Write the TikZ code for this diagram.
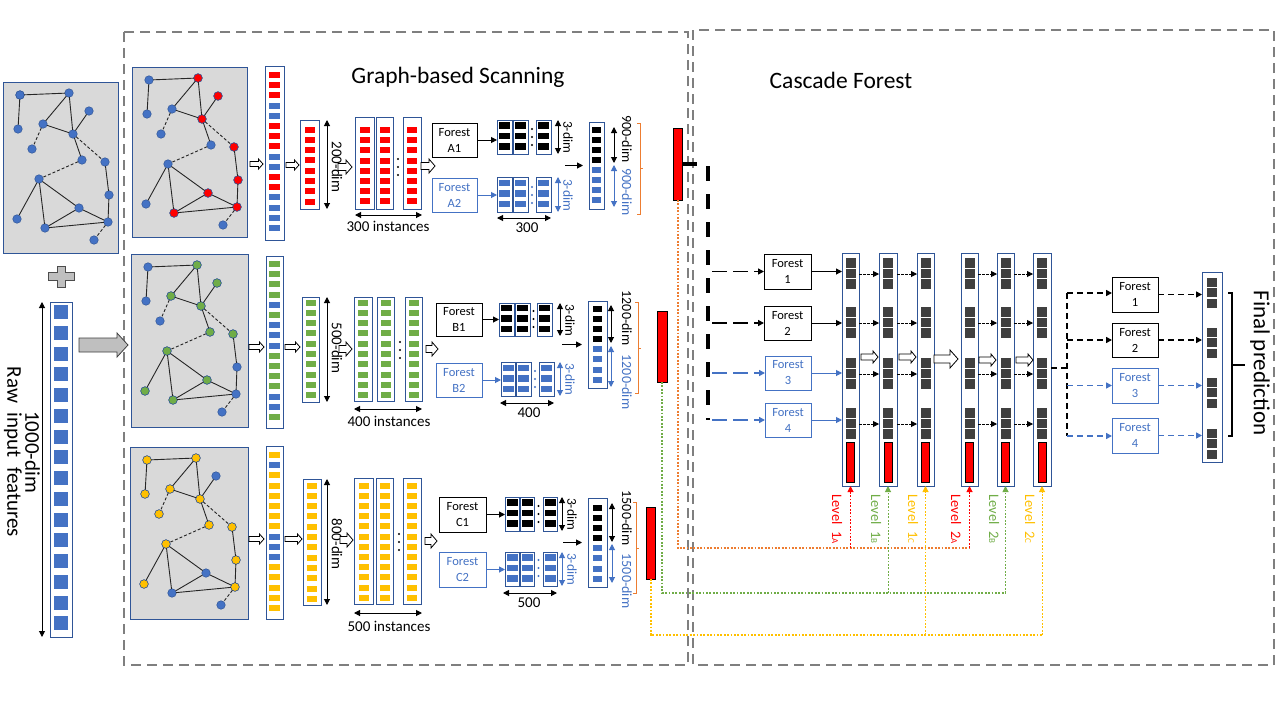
\documentclass[tikz,border=0pt]{standalone}
\usepackage{fontspec}
\setmainfont{Carlito}
\usetikzlibrary{arrows.meta}
\definecolor{cblue}{HTML}{4472C4}
\definecolor{cred}{HTML}{FF0000}
\definecolor{cgreen}{HTML}{70AD47}
\definecolor{cyel}{HTML}{FFC000}
\definecolor{cdark}{HTML}{2F5597}
\definecolor{corange}{HTML}{ED7D31}
\definecolor{csq}{HTML}{404040}
\definecolor{cpanel}{HTML}{D9D9D9}
\definecolor{cframe}{HTML}{7F7F7F}
\definecolor{cplus}{HTML}{BFBFBF}
\newcommand\fsz[2]{\fontsize{#1}{#2}\selectfont}
\tikzset{
  gpanel/.style={draw=cdark, fill=cpanel, line width=0.8pt},
  gnode/.style={circle, draw=cdark, line width=0.5pt, minimum size=8.5pt, inner sep=0pt, outer sep=0pt},
  gedge/.style={draw=black!85, line width=0.9pt},
  gdash/.style={gedge, dash pattern=on 3pt off 2pt},
  vecbox/.style={draw=cdark, line width=0.9pt, fill=white, inner sep=0pt, outer sep=0pt},
  forestk/.style={draw=black, line width=0.9pt, fill=white, align=center, font=\fsz{12.5}{16}, inner sep=0pt, outer sep=0pt},
  forestb/.style={forestk, draw=cblue, text=cblue},
  arrk/.style={-{Triangle[length=6pt,width=6pt]}, line width=1pt},
  dimk/.style={{Triangle[length=6pt,width=6pt]}-{Triangle[length=6pt,width=6pt]}, line width=1pt},
  dimtxt/.style={rotate=-90, font=\fsz{14}{14}, inner sep=0pt},
  hollowst/.style={draw=black, fill=white, line width=0.8pt},
  gframe/.style={draw=cframe, line width=2.5pt, dash pattern=on 10pt off 6pt},
  dotln/.style={line width=2pt, dash pattern=on 1.8pt off 1.6pt},
  cdsh/.style={line width=1.6pt, dash pattern=on 6pt off 4pt},
  smdash/.style={line width=0.9pt, dash pattern=on 2.5pt off 1.5pt},
  lvl/.style={rotate=-90, font=\fsz{14.5}{14.5}, inner sep=0pt},
  redbar/.style={draw=black, fill=cred, line width=0.9pt, inner sep=0pt, outer sep=0pt},
}
\newcommand\vecn[5]{\node[vecbox, minimum width={#4-#2}, minimum height={#5-#3}] (#1) at ({(#2+#4)/2},{(#3+#5)/2}) {};}
\newcommand\sqp[7]{\foreach \i in {1,...,#4}{\fill[#7] ({#1-#5/2},{#2+(\i-1)*#3-#6/2}) rectangle ({#1+#5/2},{#2+(\i-1)*#3+#6/2});}}
\newcommand\sql[6]{\foreach \cc [count=\i] in {#6}{\fill[\cc] ({#1-#4/2},{#2+(\i-1)*#3-#5/2}) rectangle ({#1+#4/2},{#2+(\i-1)*#3+#5/2});}}
\newcommand\harr[6]{\draw[hollowst] (#1,{#3-#4}) -- ({#2-#6},{#3-#4}) -- ({#2-#6},{#3-#5}) -- (#2,#3) -- ({#2-#6},{#3+#5}) -- ({#2-#6},{#3+#4}) -- (#1,{#3+#4}) -- cycle;}
\newcommand\tdots[3]{\foreach \dd in {-8,0,8}{\fill[#3] (#1,{#2+\dd}) circle (1.2);}}
\newcommand\graphpanel[7]{%
  \draw[gpanel] (#2,#3) rectangle ++(#4,#5);
  \foreach \n/\px/\py in {1/17/13,2/66/11,3/15/47,4/86/29,5/40/42,6/70/52,7/29/67,8/79/78,9/102/80,10/36/97,11/106/113,12/14/137,13/76/126,14/42/146,15/105/140,16/91/158}
    {\node[gnode, fill=cblue] (#1\n) at ({#2+\px},{#3+\py}) {};}
  \foreach \n in {#7} {\node[gnode, fill=#6] at (#1\n) {};}
  \foreach \a/\b in {1/2,1/3,2/5,2/6,5/6,6/4,6/8,9/11,11/15,10/12,10/14,10/13,13/15,14/13,14/15}
    {\draw[gedge] (#1\a) -- (#1\b);}
  \foreach \a/\b in {5/7,6/9,8/10,15/16}
    {\draw[gdash] (#1\a) -- (#1\b);}
}
\begin{document}
\begin{tikzpicture}[x=1pt,y=-1pt]
\useasboundingbox (0,0) rectangle (1280,720);
\fill[white] (0,0) rectangle (1280,720);

% frames
\draw[gframe] (124,32) rectangle (688,665);
\draw[gframe] (693,30) rectangle (1274,665);

% titles
\node[font=\fsz{23.5}{23.5}] (t1) at (458,77) {Graph-based Scanning};
\node[font=\fsz{23.5}{23.5}] (t2) at (841,80) {Cascade Forest};

% raw input
\graphpanel{r}{3}{82}{115}{171}{cblue}{1}
\draw[fill=cplus, draw=black!70, line width=0.8pt] (57,266) -- (65,266) -- (65,272) -- (74,272) -- (74,280) -- (65,280) -- (65,287) -- (57,287) -- (57,280) -- (48,280) -- (48,272) -- (57,272) -- cycle;
\vecn{raw}{50}{302}{72}{637}
\sqp{61}{312}{20.75}{16}{14}{14}{cblue}
\draw[dimk] (42,302) -- (42,637);
\node[rotate=-90, font=\fsz{21}{18}, align=center, inner sep=0pt] (rawt) at (22,452) {1000-dim\\Raw\ \ input\ \ features};
\draw[fill=cplus, draw=black!75, line width=0.8pt] (79,338) -- (117,338) -- (117,333) -- (128,345) -- (117,357) -- (117,352) -- (79,352) -- cycle;

% graph panels
\graphpanel{a}{132}{67}{115}{170}{cred}{2,4,6,9,11,13,14,15}
\graphpanel{b}{131}{254}{117}{173}{cgreen}{2,4,5,6,8,9,10,12,13,14}
\graphpanel{c}{130}{447}{118}{172}{cyel}{1,2,3,5,6,7,8,9,10,11,12,15}

% ================= Row 1 =================
\harr{250}{263}{164}{2.5}{5}{4.5}
\vecn{la}{265}{66}{284}{240}
\sql{274.5}{75}{10.2}{11}{6}{cred,cred,cred,cblue,cblue,cred,cred,cred,cblue,cblue,cred,cred,cblue,cblue,cblue,cblue}
\harr{286}{299}{165}{2.5}{5}{4.5}
\vecn{da}{300}{120}{319}{209}
\sqp{309.5}{129.5}{10.3}{8}{10}{6}{cred}
\draw[dimk] (327,120) -- (327,209);
\node[dimtxt, font=\fsz{15}{15}] at (337,167) {200-dim};
\harr{338}{352}{167}{3.5}{7}{6}
\vecn{ia1}{355}{117}{374}{209}
\vecn{ia2}{376}{117}{393}{209}
\vecn{ia3}{403}{117}{421}{209}
\sqp{364.5}{130}{10.2}{8}{10}{6}{cred}
\sqp{384.5}{130}{10.2}{8}{10}{6}{cred}
\sqp{412}{130}{10.2}{8}{10}{6}{cred}
\tdots{398}{167}{black}
\draw[dimk] (355,215) -- (422,215);
\node[font=\fsz{15}{15}] at (388,226) {300 instances};
\harr{421}{435}{166}{3.5}{7}{6}
\node[forestk, minimum width=45, minimum height=34] (A1) at (454.5,140) {Forest\\A1};
\node[forestb, minimum width=45, minimum height=34] (A2) at (454.5,195) {Forest\\A2};
\vecn{oa1}{497}{120}{512}{154}
\vecn{oa2}{513}{120}{528}{154}
\vecn{oa3}{536}{120}{551}{154}
\sqp{504.5}{125.5}{10.5}{3}{11}{6.5}{black}
\sqp{520.5}{125.5}{10.5}{3}{11}{6.5}{black}
\sqp{543.5}{125.5}{10.5}{3}{11}{6.5}{black}
\tdots{532}{137}{black}
\vecn{ob1}{497}{177}{512}{212}
\vecn{ob2}{513}{177}{528}{212}
\vecn{ob3}{536}{177}{551}{212}
\sqp{504.5}{183}{10.5}{3}{11}{6.5}{cblue}
\sqp{520.5}{183}{10.5}{3}{11}{6.5}{cblue}
\sqp{543.5}{183}{10.5}{3}{11}{6.5}{cblue}
\tdots{532}{195}{cblue}
\draw[arrk] (A1.east) -- (oa1.west |- A1.east);
\draw[arrk, cblue] (A2.east) -- (ob1.west |- A2.east);
\draw[dimk] (558,120) -- (558,154);
\node[dimtxt, font=\fsz{13.5}{13.5}] at (568,137) {3-dim};
\draw[dimk, cblue] (558,177) -- (558,212);
\node[dimtxt, font=\fsz{13.5}{13.5}, text=cblue] at (568,195) {3-dim};
\draw[dimk] (497,218) -- (551,218);
\node[font=\fsz{15}{15}] at (527,228) {300};
\vecn{ca}{589}{122}{604}{209}
\sqp{596.5}{130}{10}{4}{9}{6}{black}
\sqp{596.5}{170}{10}{4}{9}{6}{cblue}
\draw[arrk] ([xshift=-24pt]ca.west) -- ([xshift=-6pt]ca.west);
\draw[dimk] (614,127) -- (614,163);
\draw[dimk, cblue] (614,165) -- (614,207);
\node[dimtxt] at (627,139) {900-dim};
\node[dimtxt, text=cblue] at (627,192) {900-dim};
\draw[corange, line width=0.9pt] (637,123) -- (640,123) -- (640,214) -- (637,214);
\draw[corange, line width=0.9pt] (640,168) -- (643,168);
\node[redbar, minimum width=9, minimum height=72] (ra) at (677.5,164) {};

% ================= Row 2 =================
\harr{249}{264}{347}{2.5}{5}{4.5}
\vecn{lb}{266}{256}{283}{428}
\sql{274.5}{264}{10.2}{11}{6}{cgreen,cgreen,cgreen,cgreen,cblue,cgreen,cblue,cblue,cblue,cgreen,cgreen,cgreen,cgreen,cblue,cblue,cgreen}
\harr{285}{300}{347}{2.5}{5}{4.5}
\vecn{db}{302}{297}{319}{402}
\sqp{310.5}{302.5}{10.3}{10}{10}{6}{cgreen}
\draw[dimk] (327,297) -- (327,402);
\node[dimtxt, font=\fsz{15}{15}] at (337,348) {500-dim};
\harr{339}{352}{349}{3.5}{7}{6}
\vecn{ib1}{354}{297}{372}{401}
\vecn{ib2}{377}{297}{394}{401}
\vecn{ib3}{405}{297}{422}{401}
\sqp{363}{302.5}{10.3}{10}{10}{6}{cgreen}
\sqp{385.5}{302.5}{10.3}{10}{10}{6}{cgreen}
\sqp{413.5}{302.5}{10.3}{10}{10}{6}{cgreen}
\tdots{400}{350}{black}
\draw[dimk] (354,409) -- (422,409);
\node[font=\fsz{15}{15}] at (389,421) {400 instances};
\harr{426}{438}{349}{3.5}{7}{6}
\node[forestk, minimum width=46, minimum height=33] (B1) at (459,319.5) {Forest\\B1};
\node[forestb, minimum width=46, minimum height=34] (B2) at (459,380) {Forest\\B2};
\vecn{pa1}{499}{303}{514}{336}
\vecn{pa2}{515}{303}{530}{336}
\vecn{pa3}{537}{303}{552}{336}
\sqp{506.5}{308}{10.5}{3}{11}{6.5}{black}
\sqp{522.5}{308}{10.5}{3}{11}{6.5}{black}
\sqp{544.5}{308}{10.5}{3}{11}{6.5}{black}
\tdots{533.5}{319}{black}
\vecn{pb1}{501}{362}{515}{396}
\vecn{pb2}{516}{362}{531}{396}
\vecn{pb3}{539}{362}{554}{396}
\sqp{508}{368}{10.5}{3}{11}{6.5}{cblue}
\sqp{523.5}{368}{10.5}{3}{11}{6.5}{cblue}
\sqp{546.5}{368}{10.5}{3}{11}{6.5}{cblue}
\tdots{535}{379}{cblue}
\draw[arrk] (B1.east) -- (pa1.west |- B1.east);
\draw[arrk, cblue] (B2.east) -- (pb1.west |- B2.east);
\draw[dimk] (560,303) -- (560,336);
\node[dimtxt, font=\fsz{13.5}{13.5}] at (570,320) {3-dim};
\draw[dimk, cblue] (560,362) -- (560,396);
\node[dimtxt, font=\fsz{13.5}{13.5}, text=cblue] at (570,379) {3-dim};
\draw[dimk] (500,403) -- (554,403);
\node[font=\fsz{15}{15}] at (529,413) {400};
\vecn{cb}{588}{301}{607}{388}
\sqp{597.5}{308.5}{10.2}{4}{9}{6}{black}
\sqp{597.5}{349}{10.3}{4}{9}{6}{cblue}
\draw[arrk] ([xshift=-26pt]cb.west) -- ([xshift=-6pt]cb.west);
\draw[dimk] (611,305) -- (611,343);
\draw[dimk, cblue] (611,346) -- (611,387);
\node[dimtxt] at (627,318) {1200-dim};
\node[dimtxt, text=cblue] at (627,382) {1200-dim};
\draw[corange, line width=0.9pt] (635,302) -- (638,302) -- (638,393) -- (635,393);
\draw[corange, line width=0.9pt] (638,348) -- (641,348);
\node[redbar, minimum width=10, minimum height=71] (rb) at (662,346.5) {};

% ================= Row 3 =================
\harr{249}{264}{539}{2.5}{5}{4.5}
\vecn{lc}{266}{446}{283}{619}
\sql{274.5}{455}{10.2}{11}{6}{cyel,cblue,cyel,cyel,cyel,cyel,cyel,cyel,cblue,cblue,cblue,cyel,cyel,cyel,cyel,cyel}
\harr{285}{302}{539}{2.5}{5}{4.5}
\vecn{dc}{303}{479}{321}{605}
\sqp{312}{485.5}{10.3}{12}{10}{6}{cyel}
\draw[dimk] (327,479) -- (327,605);
\node[dimtxt, font=\fsz{15}{15}] at (337,544) {800-dim};
\harr{340}{353}{540}{3.5}{7}{6}
\vecn{ic1}{354}{478}{373}{604}
\vecn{ic2}{376}{478}{393}{604}
\vecn{ic3}{403}{478}{421}{604}
\sqp{363.5}{485.5}{10.2}{12}{10}{6}{cyel}
\sqp{384.5}{485.5}{10.2}{12}{10}{6}{cyel}
\sqp{412}{485.5}{10.2}{12}{10}{6}{cyel}
\tdots{399}{542}{black}
\draw[dimk] (354,613) -- (422,613);
\node[font=\fsz{15}{15}] at (389,626) {500 instances};
\harr{425}{437}{541}{3.5}{7}{6}
\node[forestk, minimum width=47, minimum height=35] (C1) at (462.5,514.5) {Forest\\C1};
\node[forestb, minimum width=47, minimum height=35] (C2) at (462.5,569.5) {Forest\\C2};
\vecn{qa1}{505}{497}{519}{531}
\vecn{qa2}{520}{497}{534}{531}
\vecn{qa3}{543}{497}{557}{531}
\sqp{512}{502.5}{10.5}{3}{11}{6.5}{black}
\sqp{527}{502.5}{10.5}{3}{11}{6.5}{black}
\sqp{550}{502.5}{10.5}{3}{11}{6.5}{black}
\tdots{538.5}{514}{black}
\vecn{qb1}{505}{552}{519}{586}
\vecn{qb2}{520}{552}{534}{586}
\vecn{qb3}{543}{552}{557}{586}
\sqp{512}{557.5}{10.5}{3}{11}{6.5}{cblue}
\sqp{527}{557.5}{10.5}{3}{11}{6.5}{cblue}
\sqp{550}{557.5}{10.5}{3}{11}{6.5}{cblue}
\tdots{538.5}{568}{cblue}
\draw[arrk] (C1.east) -- (qa1.west |- C1.east);
\draw[arrk, cblue] (C2.east) -- (qb1.west |- C2.east);
\draw[dimk] (562,497) -- (562,531);
\node[dimtxt, font=\fsz{13.5}{13.5}] at (572,514) {3-dim};
\draw[dimk, cblue] (562,552) -- (562,586);
\node[dimtxt, font=\fsz{13.5}{13.5}, text=cblue] at (572,569) {3-dim};
\draw[dimk] (503,593) -- (557,593);
\node[font=\fsz{15}{15}] at (529,603) {500};
\vecn{cc}{588}{498}{607}{587}
\sqp{597.5}{508}{10}{4}{9}{6}{black}
\sqp{597.5}{548}{10.3}{4}{9}{6}{cblue}
\draw[arrk] ([xshift=-25pt]cc.west) -- ([xshift=-6pt]cc.west);
\draw[dimk] (612,503) -- (612,542);
\draw[dimk, cblue] (612,544) -- (612,583);
\node[dimtxt] at (627,518) {1500-dim};
\node[dimtxt, text=cblue] at (627,581) {1500-dim};
\draw[corange, line width=0.9pt] (633,502) -- (636,502) -- (636,593) -- (633,593);
\draw[corange, line width=0.9pt] (636,548) -- (639,548);
\node[redbar, minimum width=9, minimum height=72] (rc) at (650.5,543) {};

% ================= Cascade =================
\node[forestk, minimum width=47, minimum height=35] (F1) at (787.5,271.5) {Forest\\1};
\node[forestk, minimum width=47, minimum height=34] (F2) at (787.5,323) {Forest\\2};
\node[forestb, minimum width=46, minimum height=34] (F3) at (788,373) {Forest\\3};
\node[forestb, minimum width=46, minimum height=34] (F4) at (788,420) {Forest\\4};

\foreach \nm/\xa/\xb in {L1/842/859,L2/879/897,L3/917/934,L4/961/978,L5/997/1014,L6/1033/1051}{
  \vecn{\nm}{\xa}{253}{\xb}{486}
  \foreach \gy in {263,312,363,413}{\sqp{(\xa+\xb)/2}{\gy}{10.5}{3}{10}{9.5}{csq}}
  \node[redbar, minimum width=8, minimum height=40] (\nm r) at ({(\xa+\xb)/2},462) {};
}
\foreach \a/\b in {L1/L2,L2/L3,L4/L5,L5/L6}{
  \foreach \yy in {274,323,374,424}{\draw[arrk, smdash] (\a.east |- 0,\yy) -- (\b.west |- 0,\yy);}
}
\harr{861}{878}{357}{3}{6}{5}
\harr{899}{916}{357}{3}{6}{5}
\harr{934}{958}{359}{4}{9}{8}
\harr{979}{996}{360}{3}{6}{5}
\harr{1016}{1033}{360}{3}{6}{5}

\draw[arrk] (F1.east) -- (L1.west |- F1.east);
\draw[arrk] (F2.east) -- (L1.west |- F2.east);
\draw[arrk, cblue] (F3.east) -- (L1.west |- F3.east);
\draw[arrk, cblue] (F4.east) -- (L1.west |- F4.east);

% thick dashed feed
\coordinate (tA) at (708,164);
\coordinate (tB) at (708,420);
\draw[line width=3.5pt, dash pattern=on 15pt off 13pt] (ra.east) -- (tA) -- (tB);
\draw[arrk, line width=1.6pt, dash pattern=on 15pt off 6pt] ([xshift=4pt]tA |- F1.west) -- (F1.west);
\draw[arrk, line width=1.6pt, dash pattern=on 15pt off 6pt] ([xshift=4pt]tA |- F2.west) -- (F2.west);
\draw[arrk, line width=1.6pt, dash pattern=on 15pt off 6pt, cblue] ([xshift=4pt]tA |- F3.west) -- (F3.west);
\draw[arrk, line width=1.6pt, dash pattern=on 15pt off 6pt, cblue] ([xshift=4pt]tA |- F4.west) -- (F4.west);

% final stage
\coordinate (fA) at (1067,368);
\coordinate (fT) at (1067,293);
\coordinate (fB) at (1067,436);
\draw[cdsh] (L6.east |- fA) -- (fA);
\draw[cdsh] (fT) -- (fB);
\node[forestk, minimum width=46, minimum height=35] (G1) at (1135,294.5) {Forest\\1};
\node[forestk, minimum width=46, minimum height=34] (G2) at (1135,340) {Forest\\2};
\node[forestb, minimum width=46, minimum height=35] (G3) at (1135,385.5) {Forest\\3};
\node[forestb, minimum width=46, minimum height=35] (G4) at (1135,435.5) {Forest\\4};
\vecn{fv}{1202}{272}{1222}{462}
\foreach \gy in {282,332,382,433}{\sqp{1212}{\gy}{10.5}{3}{10}{9}{csq}}
\draw[arrk, cdsh] (fT) -- (G1.west |- fT);
\draw[arrk, cdsh] (fT |- G2.west) -- (G2.west);
\draw[arrk, cdsh, cblue] (fT |- G3.west) -- (G3.west);
\draw[arrk, cdsh, cblue] (fB) -- (G4.west |- fB);
\draw[arrk, cdsh] (G1.east) -- (fv.west |- G1.east);
\draw[arrk, cdsh] (G2.east) -- (fv.west |- G2.east);
\draw[arrk, cdsh, cblue] (G3.east) -- (fv.west |- G3.east);
\draw[arrk, cdsh, cblue] (G4.east) -- (fv.west |- G4.east);
\draw[line width=1.5pt] (1228,293) -- (1232,293) -- (1232,436) -- (1228,436);
\draw[line width=1.5pt] (1232,365) -- (1245,365);
\node[rotate=-90, font=\fsz{23}{23}, inner sep=0pt] (fp) at (1260,363) {Final prediction};

% dotted level feeds
\draw[dotln, corange] (ra.south) -- (ra.south |- 0,548) -- (L4.south |- 0,548);
\draw[dotln, cred, arrk] (L1.south |- 0,548) -- (L1.south);
\draw[dotln, cred, arrk] (L4.south |- 0,548) -- (L4.south);
\draw[dotln, cgreen] (rb.south) -- (rb.south |- 0,593) -- (L5.south |- 0,593);
\draw[dotln, cgreen, arrk] (L2.south |- 0,593) -- (L2.south);
\draw[dotln, cgreen, arrk] (L5.south |- 0,593) -- (L5.south);
\draw[dotln, cyel] (rc.south) -- (rc.south |- 0,635) -- (L6.south |- 0,635);
\draw[dotln, cyel, arrk] (L3.south |- 0,635) -- (L3.south);
\draw[dotln, cyel, arrk] (L6.south |- 0,635) -- (L6.south);
\node[lvl, text=cred] at (837,519) {Level\ \ 1{\fsz{9}{9}A}};
\node[lvl, text=cgreen] at (876,519) {Level\ \ 1{\fsz{9}{9}B}};
\node[lvl, text=cyel] at (913,519) {Level\ \ 1{\fsz{9}{9}C}};
\node[lvl, text=cred] at (956,519) {Level\ \ 2{\fsz{9}{9}A}};
\node[lvl, text=cgreen] at (994,519) {Level\ \ 2{\fsz{9}{9}B}};
\node[lvl, text=cyel] at (1030,519) {Level\ \ 2{\fsz{9}{9}C}};
\end{tikzpicture}
\end{document}
